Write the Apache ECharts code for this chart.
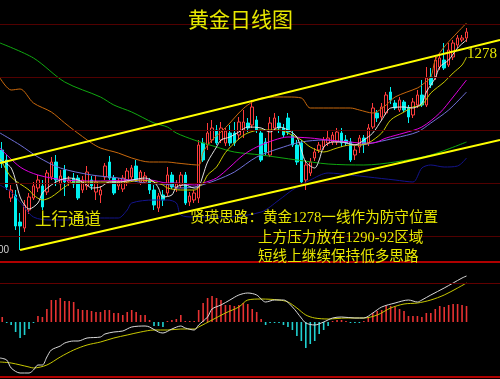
<!DOCTYPE html>
<html><head><meta charset="utf-8">
<script src="https://cdn.jsdelivr.net/npm/echarts/dist/echarts.min.js"></script>
<style>html,body{margin:0;padding:0;background:#000;}#c{width:500px;height:379px;}</style>
</head><body><div id="c"></div><script>
// ---- data ----
const slotCount = 112;
const categories = Array.from({length: slotCount}, (_, i) => 'D' + (i + 1));

const candleOpen = [1240,1236,1220.8,1222,1211.2,1208.8,1216,1220.8,1224.8,1225.6,
1223.2,1229.2,1235.2,1226.4,1232,1227.2,1228.8,1228.8,1224,1225.6,
1228,1223.2,1222,1229.2,1235.2,1228.8,1225.6,1224.4,1227.2,1229.2,
1233.6,1227.2,1227.2,1228,1224,1216.8,1222,1222.8,1230,1224.8,
1226,1230,1219.2,1220,1220.8,1242.8,1242,1244,1248,1244,
1242.8,1246.8,1246.8,1246,1248,1250.8,1250,1252,1246.8,1243.2,
1238,1248.8,1250.8,1248.8,1252.8,1246,1242,1242.8,1228,1230.8,
1236.8,1240,1241.2,1242.8,1243.2,1243.2,1246.8,1244,1243.2,1238,
1241.2,1244.8,1242.8,1249.2,1254.8,1253.2,1254.8,1263.2,1258.8,1256,
1259.2,1256.8,1254,1258,1262,1258,1269.2,1269.2,1273.2,1276,
1274,1277.2,1282,1284,1284.8];
const candleClose = [1234.8,1225.2,1224,1209.6,1209.6,1218,1221.2,1225.6,1228,1217.2,
1230.8,1235.2,1228,1229.6,1227.2,1228,1226.4,1220.8,1228,1231.2,
1225.6,1227.2,1224,1233.6,1228.8,1222.8,1227.2,1228.8,1231.6,1232.8,
1228,1231.2,1229.6,1224,1218,1221.6,1220,1230,1225.2,1226.4,
1230,1218.8,1221.6,1222.8,1242,1236,1246.8,1248.8,1242.8,1248.8,
1247.6,1242.8,1242.8,1251.2,1251.2,1248.8,1257.2,1248,1236,1239.2,
1250.8,1252.8,1248.8,1246,1247.2,1242,1235.2,1227.2,1234,1235.2,
1239.2,1242,1244,1244.8,1246,1247.2,1242.8,1242.8,1236,1240,
1244.8,1242.4,1248.8,1256.8,1252.8,1257.2,1262,1260,1256.8,1260,
1256,1253.2,1259.2,1262,1258,1268.8,1266,1276,1276.8,1272.8,
1280,1282.8,1284.8,1284.8,1287.2];
const candleLow = [1232.8,1224,1219.2,1208,1200,1207.2,1214.4,1220,1223.2,1216,
1222,1228,1225.6,1224,1221.6,1225.6,1224.8,1220,1222.8,1224,
1224,1220,1218.8,1228,1228,1222,1224,1223.2,1225.6,1228,
1227.2,1226,1226.4,1222.4,1216,1215.2,1217.6,1221.6,1224.4,1223.2,
1224.8,1218,1217.6,1218.8,1218.8,1235.2,1240,1242.8,1242,1242.8,
1241.6,1241.6,1241.6,1244,1244.8,1247.2,1248.8,1246.8,1235.2,1238,
1237.2,1248,1246.8,1245.2,1246,1241.2,1234,1226,1224,1229.6,
1235.6,1238.8,1240,1241.6,1242,1242,1241.2,1241.6,1235.2,1236,
1238.8,1238.8,1241.6,1248.4,1251.2,1252,1254,1258.4,1256,1255.2,
1255.2,1250.8,1252.8,1256.8,1257.2,1257.2,1264.8,1268,1272,1272,
1273.2,1276,1280.8,1283.2,1283.2];
const candleHigh = [1243.2,1238,1226,1224,1214.8,1220,1222.8,1227.2,1230,1228,
1232,1237.2,1238,1232,1234,1229.6,1230.8,1230,1229.6,1233.6,
1229.6,1229.6,1225.6,1234.8,1237.6,1230,1228.8,1230,1232.8,1234,
1236,1232,1231.2,1228.8,1226,1222.8,1224,1233.2,1231.2,1228,
1231.2,1231.2,1223.2,1224,1244,1244.8,1250.8,1252,1250,1251.2,
1248.8,1250,1251.2,1253.2,1256,1252.8,1260,1253.6,1248,1244.8,
1253.2,1254.8,1253.6,1250.4,1254.8,1248,1244,1244,1236,1236.8,
1240.8,1243.2,1245.2,1248,1247.2,1248.8,1248.8,1246,1244.8,1241.6,
1246,1246,1250.4,1258.8,1256,1258.8,1263.2,1265.2,1260,1261.2,
1260,1258,1260.8,1264,1268,1273.2,1272.8,1277.2,1278.8,1282.8,
1282.8,1284,1286,1286,1288.8];

// moving-average style lines: [dayIndex, price]
const maWhite = [[-0.5,1236],[2,1232.8],[4,1221.2],[5,1218],[6,1216.4],[8,1218.8],[9,1222.8],[11,1226],[13,1228],[15,1228.8],[17,1228],[19,1226],[20,1224.8],[22,1225.2],[24,1227.2],[26,1227.2],[29,1228],[32,1228.8],[34,1227.2],[35,1224.8],[36,1221.2],[38,1222],[39,1225.2],[41,1226],[43,1224.8],[44,1225.2],[45,1230],[46,1235.2],[48,1241.2],[49,1244],[51,1245.2],[53,1247.2],[55,1249.2],[58,1248.8],[60,1247.2],[62,1249.2],[64,1248],[66,1245.2],[67,1240],[68,1235.2],[70,1232.8],[71,1236],[72,1241.2],[74,1243.2],[76,1243.2],[79,1242],[81,1244],[83,1246.8],[85,1252],[87,1256.8],[90,1257.2],[92,1256.8],[94,1258.8],[95,1263.2],[97,1268.8],[98,1273.2],[100,1276],[102,1280.8],[104,1284]];
const maYellow = [[-0.5,1236.8],[2,1229.2],[6,1224],[7,1222],[9,1220],[11,1221.2],[14,1225.2],[16,1227.2],[19,1227.2],[22,1227.2],[25,1227.2],[28,1227.2],[31,1228],[34,1227.2],[36,1226],[37,1224.8],[40,1224],[43,1224],[45,1226.8],[46,1230],[48,1233.2],[50,1239],[53,1244.4],[55,1246.8],[58,1248],[62,1248],[64,1246.8],[67,1244],[69,1241.2],[72,1239.2],[75,1240.8],[78,1242],[80,1242],[82,1242.8],[85,1246.8],[87,1252],[90,1255.2],[92,1257.2],[94,1258],[96,1262.8],[99,1267.2],[101,1270.8],[103,1274],[104,1277.2]];
const maMagenta = [[-0.5,1240.8],[4,1233.2],[8,1230],[14,1228],[22,1227.6],[29,1228],[33,1228],[37,1226.8],[39,1226.8],[43,1226],[45,1226.8],[48,1228.8],[51,1233.2],[54,1238],[57,1241.2],[61,1244],[64,1245.2],[69,1244.8],[73,1244],[78,1243.2],[80,1242.8],[83,1242.8],[86,1244.8],[90,1246.8],[94,1249.2],[98,1254.8],[101,1261.2],[104,1268]];
const maBlue = [[-0.5,1246.8],[4,1242],[8,1237.2],[13,1232.8],[20,1230],[26,1228.8],[32,1226.8],[38,1226],[39,1224.8],[43,1225.2],[48,1228],[52,1231.2],[57,1237.2],[63,1241.2],[67,1243.2],[72,1244],[76,1243.2],[80,1242],[84,1243.2],[88,1244.8],[93,1247.2],[96,1250.8],[100,1256],[104,1263.2]];
const maGreen = [[-0.5,1282.8],[7,1276.8],[14,1267.2],[22,1261.2],[25,1258],[29,1255.2],[34,1250.8],[37,1249.2],[39,1246.8],[43,1244],[48,1241.2],[52,1239.2],[58,1238],[66,1236],[73,1234.4],[81,1234],[88,1235.2],[96,1238],[104,1243.2]];
const maOrange = [[-0.5,1268.8],[2,1264],[4,1264.4],[7,1258.8],[11,1255.2],[14,1250.8],[16,1248],[20,1242.8],[22,1240.8],[26,1238.8],[29,1236.8],[33,1235.2],[37,1235.2],[39,1234.8],[44,1234],[45,1239.2],[47,1244],[49,1247.2],[51,1250.8],[53,1254.8],[55,1258],[58,1260.8],[62,1261.2],[64,1261.2],[67,1260.8],[69,1256.8],[73,1256.8],[78,1256.8],[80,1256],[83,1254.8],[86,1258],[88,1261.2],[93,1264.8],[94,1266],[96,1269.2],[97,1276],[99,1281.2],[101,1285.2],[104,1290.8]];
const maNavy = [[-0.5,1226],[2,1223.2],[4,1219.2],[7,1213.2],[11,1212],[14,1212],[18,1212.4],[22,1212.8],[26,1212.8],[28,1216],[29,1218.8],[34,1220],[37,1220],[39,1218.8],[40,1214],[43,1213.2],[50,1213.2],[58,1215.2],[62,1220],[65,1224],[69,1228],[73,1230.8],[78,1230],[82,1229.2],[88,1228],[92,1227.2],[94,1232.8],[96,1234],[99,1233.2],[102,1233.6],[104,1236.8]];

// channel lines [dayIndex, price]
const channelUpper = [[-0.5,1234.8],[111.5,1284]];
const channelLower = [[4,1200],[111.5,1244]];
const priceGridLevels = [1290.4,1269.2,1248,1226.8,1205.6];

// MACD
const macdHist = [1,-0.2,-0.6,-2,-3.2,-2.6,-1.4,-0.2,1.2,1,
2.6,4.4,4.4,4.8,4.2,4.2,4,2.6,2.4,2.4,
2.2,2,2,2.4,2.4,1.8,1.8,1.4,2,2.4,
2,1.4,1.4,0.4,-0.8,-0.8,-1,0.2,0.4,0.6,
1.4,0.2,0.2,0.2,2.4,3.8,4.8,5.2,4.8,4.4,
3.4,3.4,3.2,3.4,3.8,3.6,
2.6,2,0.6,-0.6,-0.2,-0.2,-0.2,-0.6,-1,-1.6,
-2.8,-3.8,-5.2,-4.4,-3.8,-2.4,-1.6,-0.8,0.2,0.4,
0.4,0.2,-0.2,-0.2,-0.2,0.2,1,1.8,2.2,2.4,
3.2,3.2,3,2.6,2.2,1.2,1.2,1.2,1,1.8,
1.8,2.6,3.2,3,3.4,3.6,3.6,3.4,3.2];
const macdDif = [[-0.5,-7.2],[1,-7.6],[2,-9.2],[4,-10.2],[6,-10.2],[7,-9.6],[8,-8.6],[9,-8.6],[10,-7],[11,-5.6],[13,-4.8],[14,-4.2],[16,-3.8],[17,-3.8],[19,-3.2],[22,-3],[23,-2.4],[25,-2],[27,-1.8],[29,-1],[32,-0.8],[33,-1],[35,-2],[36,-2.2],[38,-1.4],[40,-0.8],[41,-1.2],[43,-1.6],[44,-0.6],[46,1],[47,2.6],[49,3.4],[51,4.4],[53,5.4],[55,5.8],[57,5.4],[59,4],[61,4.4],[63,4.4],[65,3],[67,0.8],[68,-0.2],[70,-0.6],[72,0],[74,0.8],[76,1],[79,0.8],[81,0.8],[83,1.8],[85,3],[88,3.8],[91,4.4],[93,4],[94,4.4],[96,5.4],[99,6.8],[101,7.8],[103,8.8],[104,9.2]];
const macdDea = [[-0.5,-8],[2,-8.2],[6,-9],[7,-9.2],[10,-8.6],[13,-7],[16,-5.6],[19,-4.6],[22,-4],[25,-3.2],[28,-2.6],[31,-2],[34,-1.6],[37,-1.6],[40,-1.4],[43,-1.4],[44,-1],[47,0.4],[50,1.8],[53,3],[55,4.4],[58,4.6],[62,4.4],[64,4],[66,2.8],[68,1.4],[70,0.8],[73,0.6],[77,0.8],[81,0.8],[84,1.4],[87,2.8],[90,3.6],[93,3.8],[96,4.4],[99,5.4],[102,6.8],[104,7.8]];
const macdGridLevel = 7.8;

// ---- chart ----
const candles = candleOpen.map((o, i) => [o, candleClose[i], candleLow[i], candleHigh[i]]);
const chart = echarts.init(document.getElementById('c'), null, {renderer: 'canvas'});
const maLine = (data, color) => ({
  type: 'line', xAxisIndex: 1, yAxisIndex: 0, data, showSymbol: false, smooth: 0.3,
  lineStyle: {color, width: 1}, silent: true, z: 3
});
const cjk = '"Liberation Serif", "Noto Sans CJK SC", serif';
chart.setOption({
  animation: false,
  backgroundColor: '#000',
  grid: [
    {left: 0, right: 0, top: 0, height: 262},
    {left: 0, right: 0, top: 262, height: 115}
  ],
  xAxis: [
    {type: 'category', gridIndex: 0, data: categories, show: false},
    {type: 'value', gridIndex: 0, min: -0.5, max: slotCount - 0.5, show: false},
    {type: 'category', gridIndex: 1, data: categories, show: false},
    {type: 'value', gridIndex: 1, min: -0.5, max: slotCount - 0.5, show: false}
  ],
  yAxis: [
    {type: 'value', gridIndex: 0, min: 1195.2, max: 1300, show: false, splitLine: {show: false}},
    {type: 'value', gridIndex: 1, min: -11, max: 12, show: false, splitLine: {show: false}}
  ],
  series: [
    {
      type: 'candlestick', xAxisIndex: 0, yAxisIndex: 0, data: candles, barWidth: 3,
      itemStyle: {color: '#000', color0: '#00f0f0', borderColor: '#ff3c3c', borderColor0: '#00f0f0', borderWidth: 1},
      markLine: {silent: true, symbol: 'none', label: {show: false},
        lineStyle: {color: '#520000', type: 'solid', width: 1},
        data: priceGridLevels.map(v => ({yAxis: v}))},
      z: 2
    },
    maLine(maNavy, '#14148c'),
    maLine(maOrange, '#c8680c'),
    maLine(maGreen, '#10a810'),
    maLine(maBlue, '#7070d8'),
    maLine(maMagenta, '#e000e0'),
    maLine(maYellow, '#c8c800'),
    maLine(maWhite, '#e0e0e0'),
    {type: 'line', xAxisIndex: 1, yAxisIndex: 0, data: channelUpper, showSymbol: false,
      lineStyle: {color: '#ffff00', width: 2}, silent: true, z: 5},
    {type: 'line', xAxisIndex: 1, yAxisIndex: 0, data: channelLower, showSymbol: false,
      lineStyle: {color: '#ffff00', width: 2}, silent: true, z: 5},
    {
      type: 'bar', xAxisIndex: 2, yAxisIndex: 1, data: macdHist, barWidth: 1.6,
      itemStyle: {color: p => p.value >= 0 ? '#e83232' : '#20d0d0'},
      markLine: {silent: true, symbol: 'none', label: {show: false},
        data: [
          {yAxis: 12, lineStyle: {color: '#b00000', width: 2, type: 'solid'}},
          {yAxis: macdGridLevel, lineStyle: {color: '#620000', width: 1, type: 'solid'}},
          {yAxis: -11, lineStyle: {color: '#b00000', width: 2, type: 'solid'}}
        ]}
    },
    {type: 'line', xAxisIndex: 3, yAxisIndex: 1, data: macdDea, showSymbol: false, smooth: 0.3,
      lineStyle: {color: '#c8c800', width: 1}, silent: true},
    {type: 'line', xAxisIndex: 3, yAxisIndex: 1, data: macdDif, showSymbol: false, smooth: 0.3,
      lineStyle: {color: '#d8d8d8', width: 1}, silent: true}
  ],
  graphic: [
    {type: 'text', left: 188, top: 11, z: 100, style: {text: '黄金日线图', font: '21px ' + cjk, fill: '#e8e800'}},
    {type: 'text', left: 467, top: 47, z: 100, style: {text: '1278', font: '15px ' + cjk, fill: '#e8e800'}},
    {type: 'text', left: 35, top: 212, z: 100, style: {text: '上行通道', font: '16.5px ' + cjk, fill: '#e0e000'}},
    {type: 'text', left: 190, top: 211, z: 100, style: {text: '贤瑛思路：黄金1278一线作为防守位置', font: '14.6px ' + cjk, fill: '#e8e800'}},
    {type: 'text', left: 258, top: 231, z: 100, style: {text: '上方压力放在1290-92区域', font: '14.6px ' + cjk, fill: '#e8e800'}},
    {type: 'text', left: 258, top: 250, z: 100, style: {text: '短线上继续保持低多思路', font: '14.6px ' + cjk, fill: '#e8e800'}},
    {type: 'text', right: 491, top: 245, z: 100, style: {text: '1200.00', font: '10px "Liberation Sans", sans-serif', fill: '#d0d0d0'}}
  ]
});
</script></body></html>
